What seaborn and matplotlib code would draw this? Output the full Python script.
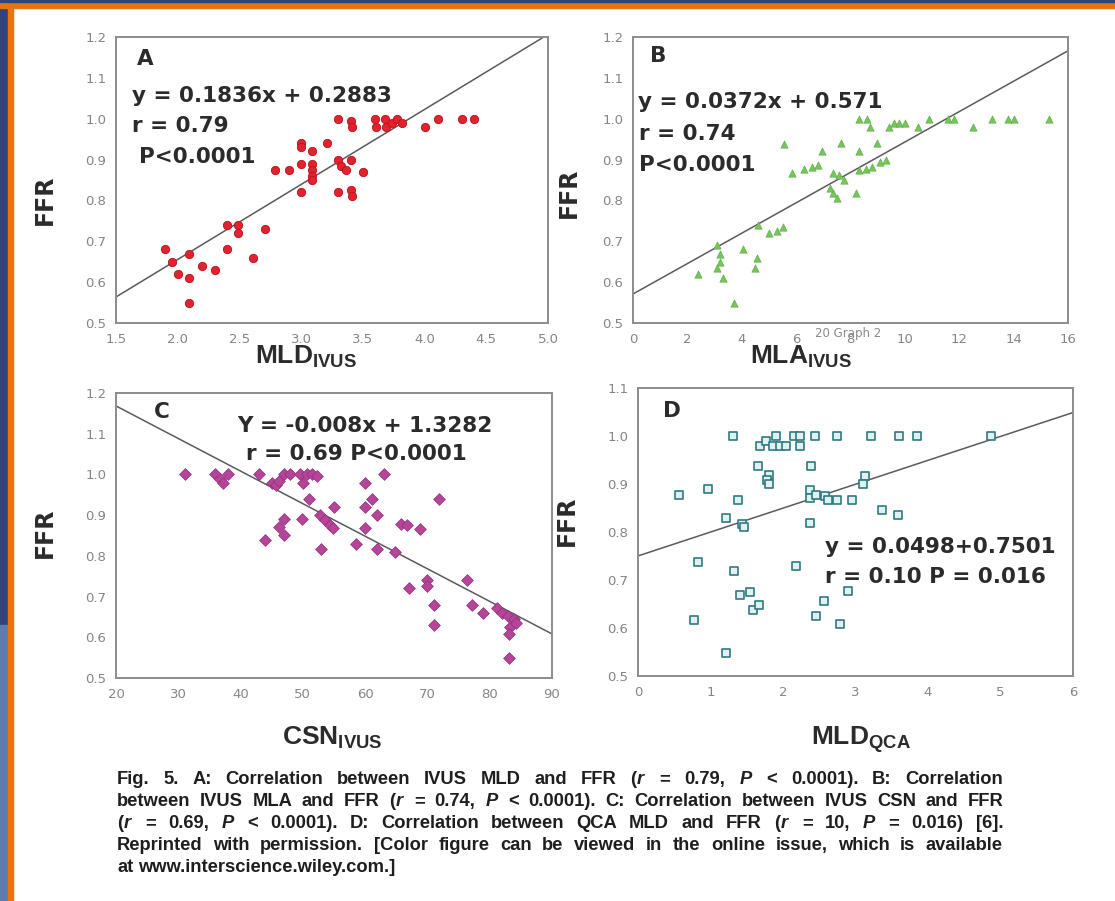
import matplotlib
matplotlib.use("Agg")
import matplotlib.pyplot as plt
import seaborn as sns
from matplotlib.patches import Rectangle

# ---- data ----
# A: IVUS MLD vs FFR
mld_ivus = [1.90, 1.95, 2.00, 2.09, 2.09, 2.20, 2.30, 2.09, 2.40, 2.49, 2.49, 2.71, 2.40, 2.61,
            2.79, 2.90, 3.00, 3.00, 3.00, 3.00, 3.09, 3.09, 3.09, 3.09, 3.09, 3.21, 3.30, 3.32,
            3.40, 3.36, 3.50, 3.30, 3.40, 3.41,
            3.30, 3.40, 3.41, 3.60, 3.61, 3.68, 3.69, 3.74, 3.78, 3.82, 4.00, 4.11, 4.30, 4.40]
ffr_a = [0.68, 0.65, 0.62, 0.67, 0.61, 0.64, 0.63, 0.55, 0.74, 0.74, 0.72, 0.73, 0.68, 0.66,
         0.875, 0.875, 0.94, 0.93, 0.89, 0.82, 0.92, 0.89, 0.875, 0.86, 0.85, 0.94, 0.90, 0.885,
         0.90, 0.875, 0.87, 0.82, 0.825, 0.81,
         1.0, 0.995, 0.98, 1.0, 0.98, 1.0, 0.98, 0.99, 1.0, 0.99, 0.98, 1.0, 1.0, 1.0]

# B: IVUS MLA vs FFR
mla_ivus = [2.4, 3.1, 3.2, 3.2, 3.1, 3.3, 4.05, 4.55, 4.5, 4.6, 5.0, 5.3, 5.5, 3.7,
            5.55, 5.85, 6.3, 6.6, 6.8, 6.95, 7.65, 8.3, 8.98, 7.37, 7.58, 7.75, 7.25, 7.37,
            7.5, 8.2, 8.3, 8.57, 8.8, 9.07, 9.3,
            8.3, 8.6, 8.7, 9.4, 9.6, 9.8, 10.0, 10.5, 10.9, 11.6, 11.8, 12.5, 13.2, 13.8, 14.0, 15.3]
ffr_b = [0.62, 0.69, 0.67, 0.65, 0.635, 0.61, 0.68, 0.66, 0.635, 0.74, 0.72, 0.725, 0.735, 0.55,
         0.937, 0.868, 0.877, 0.883, 0.887, 0.92, 0.94, 0.92, 0.94, 0.867, 0.863, 0.85, 0.83, 0.818,
         0.805, 0.818, 0.874, 0.876, 0.883, 0.894, 0.899,
         1.0, 1.0, 0.98, 0.98, 0.99, 0.99, 0.99, 0.98, 1.0, 1.0, 1.0, 0.98, 1.0, 1.0, 1.0, 1.0]

# C: IVUS CSN vs FFR
csn_ivus = [31.0, 35.9, 36.7, 37.2, 38.0, 43.0, 45.0, 45.7, 46.2, 47.0, 48.0, 49.5, 50.0, 50.6,
            51.5, 52.3, 60.0, 63.0, 71.9,
            51.0, 55.0, 61.1, 60.0, 61.9, 52.8, 53.6, 54.4, 54.9, 49.9, 46.9, 46.1, 46.9, 43.9,
            52.9, 58.6, 60.0, 61.9, 64.8, 65.7, 66.8, 68.8,
            67.1, 70.0, 70.0, 71.0, 71.0, 76.3, 77.1, 78.9, 81.2, 82.0, 83.0, 83.9, 83.3, 84.2,
            83.1, 83.1]
ffr_c = [1.0, 1.0, 0.99, 0.98, 1.0, 1.0, 0.98, 0.975, 0.985, 1.0, 1.0, 1.0, 0.98, 1.0,
         1.0, 0.995, 0.98, 1.0, 0.94,
         0.94, 0.92, 0.94, 0.92, 0.90, 0.90, 0.888, 0.876, 0.868, 0.89, 0.89, 0.872, 0.851, 0.838,
         0.818, 0.83, 0.868, 0.818, 0.81, 0.878, 0.877, 0.867,
         0.72, 0.74, 0.727, 0.68, 0.631, 0.74, 0.68, 0.66, 0.673, 0.66, 0.652, 0.644, 0.625, 0.636,
         0.607, 0.55]

# D: QCA MLD vs FFR
mld_qca = [1.31, 1.91, 2.15, 2.24, 2.44, 2.75, 3.21, 3.60, 3.85, 4.87,
           1.68, 1.77, 1.86, 1.96, 2.04, 2.23,
           1.66, 1.80, 1.78, 1.80, 2.39, 3.13, 3.11, 0.57, 0.97, 1.38, 2.37, 2.37, 2.46, 2.58,
           2.62, 2.75, 2.95, 3.36, 3.59, 1.22, 1.44, 1.46, 2.37,
           0.83, 1.33, 2.18, 2.90, 1.41, 1.55, 1.59, 1.67, 2.56, 2.46, 2.78, 0.77, 1.22]
ffr_d = [1.0, 1.0, 1.0, 1.0, 1.0, 1.0, 1.0, 1.0, 1.0, 1.0,
         0.979, 0.99, 0.979, 0.979, 0.979, 0.979,
         0.937, 0.919, 0.909, 0.899, 0.937, 0.917, 0.899, 0.878, 0.889, 0.867, 0.888, 0.871, 0.877, 0.874,
         0.867, 0.867, 0.867, 0.846, 0.836, 0.83, 0.817, 0.81, 0.818,
         0.738, 0.718, 0.73, 0.678, 0.668, 0.676, 0.638, 0.648, 0.657, 0.626, 0.608, 0.617, 0.548]

# regression lines (slope, intercept) as printed on the panels
fit_a = (0.1836, 0.2883)
fit_b = (0.0372, 0.571)
fit_c = (-0.008, 1.3282)
fit_d = (0.0498, 0.7501)

xticks_a = [1.5, 2.0, 2.5, 3.0, 3.5, 4.0, 4.5, 5.0]
xticks_b = [0, 2, 4, 6, 8, 10, 12, 14, 16]
xticks_c = [20, 30, 40, 50, 60, 70, 80, 90]
xticks_d = [0, 1, 2, 3, 4, 5, 6]
yticks_abc = [0.5, 0.6, 0.7, 0.8, 0.9, 1.0, 1.1, 1.2]
yticks_d = [0.5, 0.6, 0.7, 0.8, 0.9, 1.0, 1.1]

caption = [
    "Fig. 5. A: Correlation between IVUS MLD and FFR ($\\mathit{r}$ = 0.79, $\\mathit{P}$ < 0.0001). B: Correlation",
    "between IVUS MLA and FFR ($\\mathit{r}$ = 0.74, $\\mathit{P}$ < 0.0001). C: Correlation between IVUS CSN and FFR",
    "($\\mathit{r}$ = 0.69, $\\mathit{P}$ < 0.0001). D: Correlation between QCA MLD and FFR ($\\mathit{r}$ = 10, $\\mathit{P}$ = 0.016) [6].",
    "Reprinted with permission. [Color figure can be viewed in the online issue, which is available",
    "at www.interscience.wiley.com.]",
]

# ---- style ----
sns.set_style("white")
plt.rcParams["font.family"] = ["DejaVu Sans"]
plt.rcParams["mathtext.fontset"] = "custom"
plt.rcParams["mathtext.rm"] = "Liberation Sans:bold"
plt.rcParams["mathtext.bf"] = "Liberation Sans:bold"
plt.rcParams["mathtext.it"] = "Liberation Sans:italic:bold"

W, H = 1115, 901
fig = plt.figure(figsize=(W / 100, H / 100), dpi=100, facecolor="white")

# slide frame
fig.add_artist(Rectangle((0, 1 - 625 / H), 8 / W, 625 / H, transform=fig.transFigure, color="#34427a", zorder=0))
fig.add_artist(Rectangle((0, 0), 8 / W, 1 - 625 / H, transform=fig.transFigure, color="#5f7cb2", zorder=0))
fig.add_artist(Rectangle((8 / W, 0), 4.5 / W, 1, transform=fig.transFigure, color="#e8730f", zorder=1))
fig.add_artist(Rectangle((0, 1 - 7.5 / H), 1, 5.5 / H, transform=fig.transFigure, color="#e8730f", zorder=1))
fig.add_artist(Rectangle((0, 1 - 2 / H), 1, 2 / H, transform=fig.transFigure, color="#34427a", zorder=1))


def px_axes(l, t, r, b):
    return fig.add_axes([l / W, 1 - b / H, (r - l) / W, (b - t) / H])


ax_a = px_axes(116, 37, 548, 323)
ax_b = px_axes(633, 37, 1068, 323)
ax_c = px_axes(116, 393, 552, 678)
ax_d = px_axes(638, 388, 1073, 676)

text_kw = dict(fontsize=15.5, fontweight="bold", color="#2b2b2b", va="baseline")


def panel(ax, x, y, fit, xticks, xfmt, yticks, marker, face, edge, size, lw):
    sns.scatterplot(x=x, y=y, ax=ax, marker=marker, s=size, color=face,
                    edgecolor=edge, linewidth=lw, zorder=3, legend=False)
    ax.axline((0, fit[1]), slope=fit[0], color="#5a5a5a", lw=1.1, zorder=2)
    ax.set_xlim(xticks[0], xticks[-1])
    ax.set_ylim(yticks[0], yticks[-1])
    ax.set_xticks(xticks, labels=[xfmt.format(t) for t in xticks])
    ax.set_yticks(yticks, labels=["{:.1f}".format(t) for t in yticks])
    ax.tick_params(direction="out", length=3, width=1, color="#8c8c8c",
                   labelcolor="#858585", labelsize=9.5, pad=4)
    for s in ax.spines.values():
        s.set_visible(True)
        s.set_color("#8c8c8c")
        s.set_linewidth(1.4)
    ax.set_facecolor("white")
    ax.set_ylabel("FFR", fontsize=17, fontweight="bold", color="#2b2b2b")


panel(ax_a, mld_ivus, ffr_a, fit_a, xticks_a, "{:.1f}", yticks_abc, "o", "#e3222e", "#b5121f", 36, 0.6)
panel(ax_b, mla_ivus, ffr_b, fit_b, xticks_b, "{:d}", yticks_abc, "^", "#74c657", "#5aa845", 28, 0.4)
panel(ax_c, csn_ivus, ffr_c, fit_c, xticks_c, "{:d}", yticks_abc, "D", "#b6459a", "#8d2f78", 36, 0.5)
panel(ax_d, mld_qca, ffr_d, fit_d, xticks_d, "{:d}", yticks_d, "s", "#e2f1f0", "#2f7a80", 40, 1.2)

lab_kw = dict(fontsize=19, color="#2b2b2b")
ax_a.set_xlabel(r"$\mathbf{MLD}_{\mathbf{IVUS}}$", **lab_kw)
ax_b.set_xlabel(r"$\mathbf{MLA}_{\mathbf{IVUS}}$", **lab_kw)
ax_c.set_xlabel(r"$\mathbf{CSN}_{\mathbf{IVUS}}$", **lab_kw)
ax_d.set_xlabel(r"$\mathbf{MLD}_{\mathbf{QCA}}$", **lab_kw)
ax_a.xaxis.set_label_coords(0.44, -0.072)
ax_b.xaxis.set_label_coords(0.385, -0.072)
ax_c.xaxis.set_label_coords(0.495, -0.165)
ax_d.xaxis.set_label_coords(0.513, -0.168)
ax_a.yaxis.set_label_coords(-0.137, 0.43)
ax_b.yaxis.set_label_coords(-0.12, 0.455)
ax_c.yaxis.set_label_coords(-0.135, 0.509)
ax_d.yaxis.set_label_coords(-0.136, 0.54)

# panel letters and statistics
ax_a.text(0.049, 0.902, "A", transform=ax_a.transAxes, **text_kw)
ax_a.text(0.037, 0.773, "y = 0.1836x + 0.2883", transform=ax_a.transAxes, **text_kw)
ax_a.text(0.037, 0.668, "r = 0.79", transform=ax_a.transAxes, **text_kw)
ax_a.text(0.053, 0.559, "P<0.0001", transform=ax_a.transAxes, **text_kw)

ax_b.text(0.039, 0.913, "B", transform=ax_b.transAxes, **text_kw)
ax_b.text(0.012, 0.752, "y = 0.0372x + 0.571", transform=ax_b.transAxes, **text_kw)
ax_b.text(0.014, 0.64, "r = 0.74", transform=ax_b.transAxes, **text_kw)
ax_b.text(0.014, 0.531, "P<0.0001", transform=ax_b.transAxes, **text_kw)

ax_c.text(0.087, 0.912, "C", transform=ax_c.transAxes, **text_kw)
ax_c.text(0.278, 0.863, "Y = -0.008x + 1.3282", transform=ax_c.transAxes, **text_kw)
ax_c.text(0.298, 0.765, "r = 0.69 P<0.0001", transform=ax_c.transAxes, **text_kw)

ax_d.text(0.057, 0.90, "D", transform=ax_d.transAxes, **text_kw)
ax_d.text(0.43, 0.427, "y = 0.0498+0.7501", transform=ax_d.transAxes, **text_kw)
ax_d.text(0.43, 0.323, "r = 0.10 P = 0.016", transform=ax_d.transAxes, **text_kw)

fig.text(815 / W, 1 - 337 / H, "20 Graph 2", fontsize=8.5, color="#8a8a8a", va="baseline")

# justified caption, placed word by word
renderer = fig.canvas.get_renderer()
x0, x1 = 117, 1003
baselines = [784, 806, 828, 850, 872]
for i, line in enumerate(caption):
    words = line.split(" ")
    arts = [fig.text(0, 1 - baselines[i] / H, w, fontsize=13.2, fontfamily="Liberation Sans",
                     fontweight="bold", color="#1e1e1e", va="baseline") for w in words]
    widths = [a.get_window_extent(renderer).width for a in arts]
    if i < len(caption) - 1:
        gap = (x1 - x0 - sum(widths)) / (len(words) - 1)
    else:
        gap = 5
    pos = x0
    for a, w in zip(arts, widths):
        a.set_x(pos / W)
        pos += w + gap

fig.savefig("out.png", dpi=100, facecolor="white")
